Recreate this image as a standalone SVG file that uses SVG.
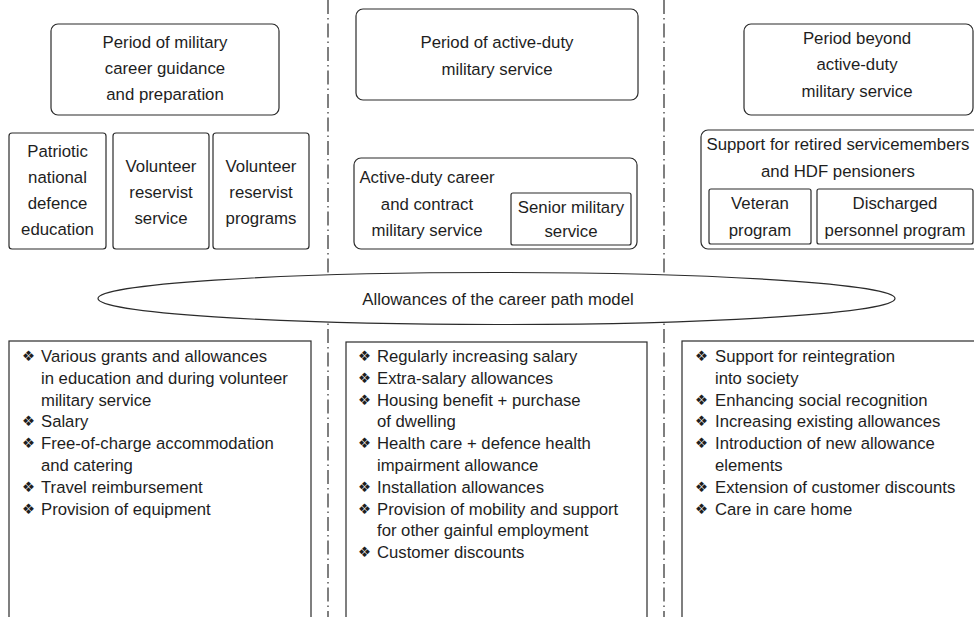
<svg xmlns="http://www.w3.org/2000/svg" width="974" height="617" viewBox="0 0 974 617">
<style>
.box{fill:#fff;stroke:#2b2b2b;stroke-width:1.2}
.t{font-family:"Liberation Sans",Arial,sans-serif;font-size:16.8px;fill:#1e1e1e;text-anchor:middle}
.b{font-family:"Liberation Sans",Arial,sans-serif;font-size:16.7px;fill:#1e1e1e}
.bu{font-family:"DejaVu Sans",sans-serif;font-size:14.5px;fill:#1e1e1e}
.sep{stroke:#2b2b2b;stroke-width:1.2;stroke-dasharray:14 4 1.5 4;fill:none}
</style>
<rect width="974" height="617" fill="#fff"/>
<g id="connectors">
<line class="sep" x1="328" y1="0" x2="328" y2="617"/>
<line class="sep" x1="664" y1="0" x2="664" y2="617"/>
</g>
<g id="period1">
<rect class="box" x="51" y="24" width="228" height="91" rx="7"/>
<text class="t" x="165" y="47.5">Period of military</text>
<text class="t" x="165" y="73.5">career guidance</text>
<text class="t" x="165" y="99.5">and preparation</text>
</g>
<g id="patriotic">
<rect class="box" x="9" y="133" width="97" height="116" rx="3"/>
<text class="t" x="57.5" y="157">Patriotic</text>
<text class="t" x="57.5" y="183">national</text>
<text class="t" x="57.5" y="209">defence</text>
<text class="t" x="57.5" y="235">education</text>
</g>
<g id="reservist-service">
<rect class="box" x="113" y="133" width="96" height="116" rx="3"/>
<text class="t" x="161" y="171.5">Volunteer</text>
<text class="t" x="161" y="197.5">reservist</text>
<text class="t" x="161" y="223.5">service</text>
</g>
<g id="reservist-programs">
<rect class="box" x="213" y="133" width="96" height="116" rx="3"/>
<text class="t" x="261" y="171.5">Volunteer</text>
<text class="t" x="261" y="197.5">reservist</text>
<text class="t" x="261" y="223.5">programs</text>
</g>
<g id="period2">
<rect class="box" x="356" y="9" width="282" height="91" rx="7"/>
<text class="t" x="497" y="48">Period of active-duty</text>
<text class="t" x="497" y="74.5">military service</text>
</g>
<g id="active-duty">
<rect class="box" x="354" y="158" width="283" height="91" rx="7"/>
<text class="t" x="427" y="183">Active-duty career</text>
<text class="t" x="427" y="209.5">and contract</text>
<text class="t" x="427" y="236">military service</text>
</g>
<g id="senior">
<rect class="box" x="511" y="193" width="120" height="52" rx="2"/>
<text class="t" x="571" y="213">Senior military</text>
<text class="t" x="571" y="237">service</text>
</g>
<g id="period3">
<rect class="box" x="744" y="24" width="229" height="91" rx="7"/>
<text class="t" x="857" y="43.5">Period beyond</text>
<text class="t" x="857" y="70">active-duty</text>
<text class="t" x="857" y="96.5">military service</text>
</g>
<g id="support">
<rect class="box" x="701" y="130" width="290" height="119" rx="7"/>
<text class="t" x="838" y="150">Support for retired servicemembers</text>
<text class="t" x="838" y="176.5">and HDF pensioners</text>
</g>
<g id="veteran">
<rect class="box" x="709" y="189" width="102" height="55" rx="2"/>
<text class="t" x="760" y="209">Veteran</text>
<text class="t" x="760" y="236">program</text>
</g>
<g id="discharged">
<rect class="box" x="817" y="189" width="156" height="55" rx="2"/>
<text class="t" x="895" y="209">Discharged</text>
<text class="t" x="895" y="236">personnel program</text>
</g>
<g id="allowances">
<ellipse class="box" cx="496.5" cy="298.5" rx="398.5" ry="26"/>
<text class="t" x="498" y="305">Allowances of the career path model</text>
</g>
<g id="list1">
<rect class="box" x="9" y="341" width="302" height="300"/>
<text class="bu" x="22" y="361">❖</text><text class="b" x="41" y="362">Various grants and allowances</text>
<text class="b" x="41" y="383.8">in education and during volunteer</text>
<text class="b" x="41" y="405.6">military service</text>
<text class="bu" x="22" y="426.4">❖</text><text class="b" x="41" y="427.4">Salary</text>
<text class="bu" x="22" y="448.2">❖</text><text class="b" x="41" y="449.2">Free-of-charge accommodation</text>
<text class="b" x="41" y="471">and catering</text>
<text class="bu" x="22" y="491.8">❖</text><text class="b" x="41" y="492.8">Travel reimbursement</text>
<text class="bu" x="22" y="513.6">❖</text><text class="b" x="41" y="514.6">Provision of equipment</text>
</g>
<g id="list2">
<rect class="box" x="346" y="342" width="301" height="300"/>
<text class="bu" x="358" y="361">❖</text><text class="b" x="377" y="362">Regularly increasing salary</text>
<text class="bu" x="358" y="382.8">❖</text><text class="b" x="377" y="383.8">Extra-salary allowances</text>
<text class="bu" x="358" y="404.6">❖</text><text class="b" x="377" y="405.6">Housing benefit + purchase</text>
<text class="b" x="377" y="427.4">of dwelling</text>
<text class="bu" x="358" y="448.2">❖</text><text class="b" x="377" y="449.2">Health care + defence health</text>
<text class="b" x="377" y="471">impairment allowance</text>
<text class="bu" x="358" y="491.8">❖</text><text class="b" x="377" y="492.8">Installation allowances</text>
<text class="bu" x="358" y="513.6">❖</text><text class="b" x="377" y="514.6">Provision of mobility and support</text>
<text class="b" x="377" y="536.4">for other gainful employment</text>
<text class="bu" x="358" y="557.2">❖</text><text class="b" x="377" y="558.2">Customer discounts</text>
</g>
<g id="list3">
<rect class="box" x="682" y="341" width="300" height="300"/>
<text class="bu" x="695" y="361">❖</text><text class="b" x="715" y="362">Support for reintegration</text>
<text class="b" x="715" y="383.8">into society</text>
<text class="bu" x="695" y="404.6">❖</text><text class="b" x="715" y="405.6">Enhancing social recognition</text>
<text class="bu" x="695" y="426.4">❖</text><text class="b" x="715" y="427.4">Increasing existing allowances</text>
<text class="bu" x="695" y="448.2">❖</text><text class="b" x="715" y="449.2">Introduction of new allowance</text>
<text class="b" x="715" y="471">elements</text>
<text class="bu" x="695" y="491.8">❖</text><text class="b" x="715" y="492.8">Extension of customer discounts</text>
<text class="bu" x="695" y="513.6">❖</text><text class="b" x="715" y="514.6">Care in care home</text>
</g>
</svg>
